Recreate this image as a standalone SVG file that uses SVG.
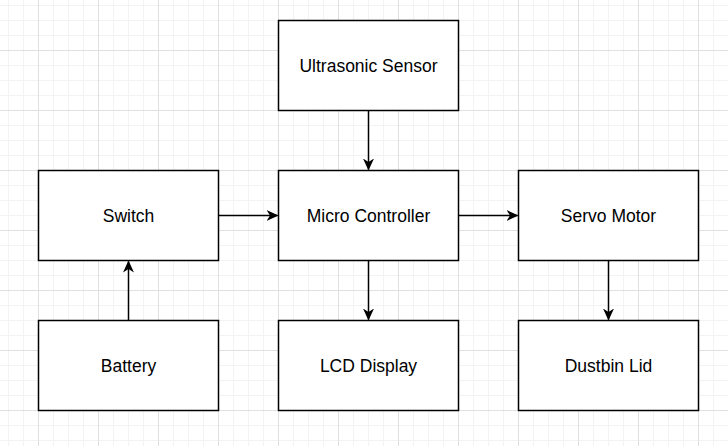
<svg xmlns="http://www.w3.org/2000/svg" width="728" height="446" viewBox="0 0 728 446">
<defs>
<pattern id="minor" x="8" y="5" width="15" height="15" patternUnits="userSpaceOnUse">
<path d="M0.5 0V15M0 0.5H15" fill="none" stroke="#f3f3f3" stroke-width="1"/>
</pattern>
<pattern id="major" x="38" y="50" width="60" height="60" patternUnits="userSpaceOnUse">
<path d="M0.5 0V60M0 0.5H60" fill="none" stroke="#e0e0e0" stroke-width="1"/>
</pattern>
<marker id="arr" viewBox="0 0 12 12" refX="11" refY="6" markerWidth="12" markerHeight="12" markerUnits="userSpaceOnUse" orient="auto">
<path d="M0,0.5 L12,6 L0,11.5 L3.5,6 Z" fill="#000"/>
</marker>
</defs>
<style>
.box{fill:#fff;stroke:#000;stroke-width:1.5}
.lbl{font-family:"Liberation Sans",Arial,sans-serif;font-size:17.5px;fill:#000;text-anchor:middle}
.con{stroke:#000;stroke-width:1.5;fill:none;marker-end:url(#arr)}
</style>
<rect width="728" height="446" fill="#fff"/>
<rect width="728" height="446" fill="url(#minor)"/>
<rect width="728" height="446" fill="url(#major)"/>
<g id="ultrasonic"><rect class="box" x="278.5" y="20.5" width="180" height="90"/><text class="lbl" x="368.5" y="72">Ultrasonic Sensor</text></g>
<g id="switch"><rect class="box" x="38.5" y="170.5" width="180" height="90"/><text class="lbl" x="128.5" y="222">Switch</text></g>
<g id="micro"><rect class="box" x="278.5" y="170.5" width="180" height="90"/><text class="lbl" x="368.5" y="222">Micro Controller</text></g>
<g id="servo"><rect class="box" x="518.5" y="170.5" width="180" height="90"/><text class="lbl" x="608.5" y="222">Servo Motor</text></g>
<g id="battery"><rect class="box" x="38.5" y="320.5" width="180" height="90"/><text class="lbl" x="128.5" y="372">Battery</text></g>
<g id="lcd"><rect class="box" x="278.5" y="320.5" width="180" height="90"/><text class="lbl" x="368.5" y="372">LCD Display</text></g>
<g id="dustbin"><rect class="box" x="518.5" y="320.5" width="180" height="90"/><text class="lbl" x="608.5" y="372">Dustbin Lid</text></g>
<g id="connectors">
<path class="con" d="M368.5 110.5V169.5"/>
<path class="con" d="M218.5 215.5H277.5"/>
<path class="con" d="M458.5 215.5H517.5"/>
<path class="con" d="M368.5 260.5V319.5"/>
<path class="con" d="M608.5 260.5V319.5"/>
<path class="con" d="M128.5 320.5V261.5"/>
</g>
</svg>
